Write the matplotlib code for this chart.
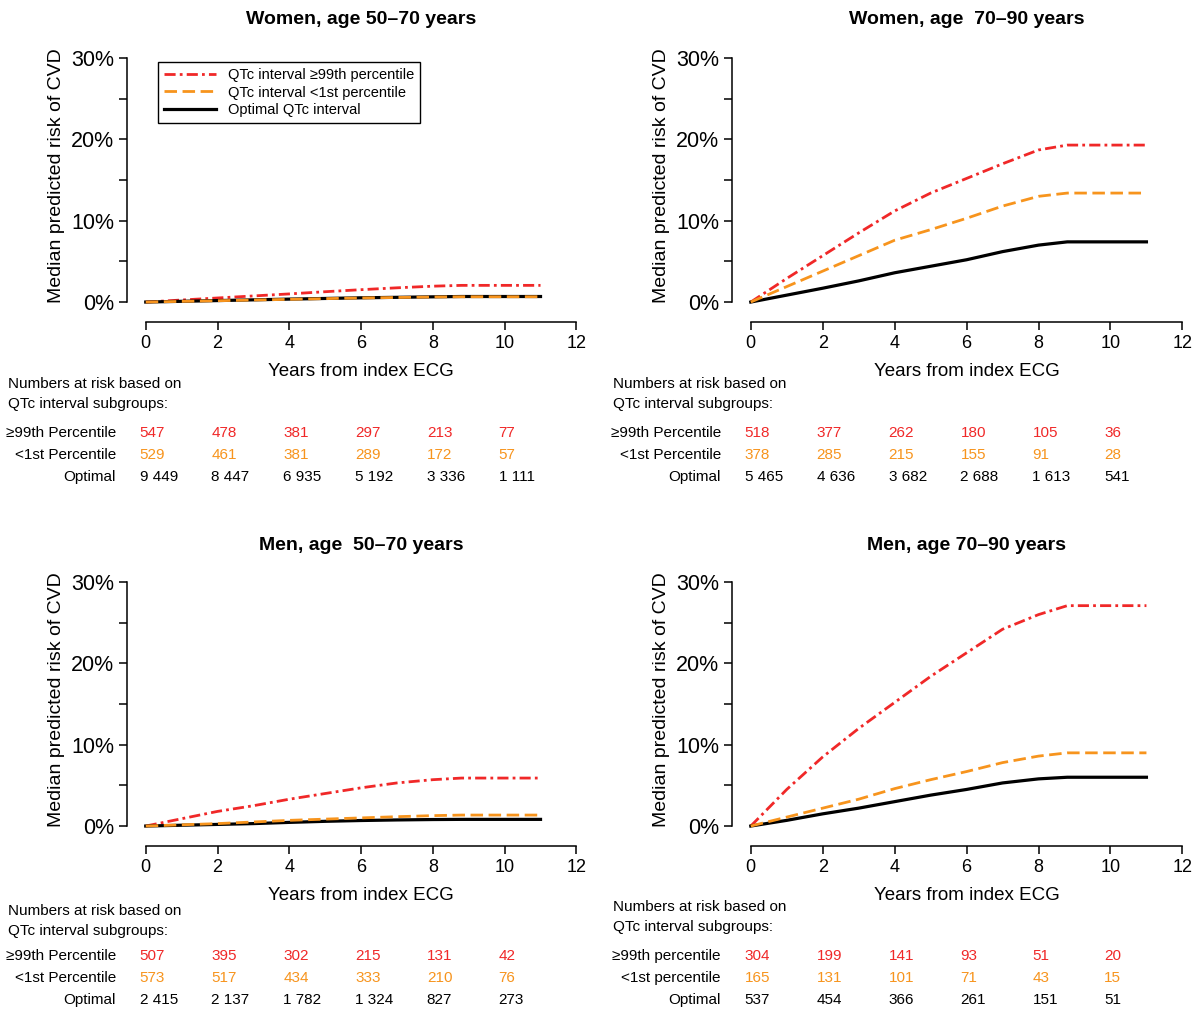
import matplotlib
matplotlib.use("Agg")
import matplotlib.pyplot as plt
from matplotlib.transforms import blended_transform_factory

plt.rcParams['font.family'] = ['Liberation Sans', 'DejaVu Sans']

years = [0, 1, 2, 3, 4, 5, 6, 7, 8, 8.8, 11]

titles = ['Women, age 50\u201370 years', 'Women, age  70\u201390 years',
          'Men, age  50\u201370 years', 'Men, age 70\u201390 years']

# median predicted risk (%) per panel
high_risk = [
    [0, 0.25, 0.5, 0.75, 1.0, 1.27, 1.52, 1.75, 1.95, 2.05, 2.05],
    [0, 2.9, 5.7, 8.5, 11.2, 13.4, 15.2, 17.0, 18.7, 19.3, 19.3],
    [0, 0.9, 1.8, 2.5, 3.3, 4.0, 4.7, 5.3, 5.7, 5.9, 5.9],
    [0, 4.5, 8.5, 12.0, 15.2, 18.4, 21.3, 24.2, 26.0, 27.1, 27.1],
]
low_risk = [
    [0, 0.08, 0.16, 0.25, 0.33, 0.42, 0.5, 0.56, 0.62, 0.65, 0.65],
    [0, 1.9, 3.8, 5.7, 7.6, 8.9, 10.3, 11.8, 13.0, 13.4, 13.4],
    [0, 0.15, 0.3, 0.5, 0.7, 0.85, 1.0, 1.15, 1.28, 1.35, 1.35],
    [0, 1.1, 2.2, 3.3, 4.6, 5.7, 6.7, 7.8, 8.6, 9.0, 9.0],
]
optimal_risk = [
    [0, 0.09, 0.18, 0.27, 0.36, 0.44, 0.52, 0.58, 0.64, 0.68, 0.68],
    [0, 0.85, 1.7, 2.6, 3.6, 4.4, 5.2, 6.2, 7.0, 7.4, 7.4],
    [0, 0.1, 0.2, 0.3, 0.45, 0.58, 0.68, 0.75, 0.8, 0.82, 0.82],
    [0, 0.7, 1.5, 2.2, 3.0, 3.8, 4.5, 5.3, 5.8, 6.0, 6.0],
]

risk_years = [0, 2, 4, 6, 8, 10]
n_high = [
    ['547', '478', '381', '297', '213', '77'],
    ['518', '377', '262', '180', '105', '36'],
    ['507', '395', '302', '215', '131', '42'],
    ['304', '199', '141', '93', '51', '20'],
]
n_low = [
    ['529', '461', '381', '289', '172', '57'],
    ['378', '285', '215', '155', '91', '28'],
    ['573', '517', '434', '333', '210', '76'],
    ['165', '131', '101', '71', '43', '15'],
]
n_opt = [
    ['9 449', '8 447', '6 935', '5 192', '3 336', '1 111'],
    ['5 465', '4 636', '3 682', '2 688', '1 613', '541'],
    ['2 415', '2 137', '1 782', '1 324', '827', '273'],
    ['537', '454', '366', '261', '151', '51'],
]
row_labels = [
    ['\u226599th Percentile', '<1st Percentile', 'Optimal'],
    ['\u226599th Percentile', '<1st Percentile', 'Optimal'],
    ['\u226599th Percentile', '<1st Percentile', 'Optimal'],
    ['\u226599th percentile', '<1st percentile', 'Optimal'],
]

legend_labels = ['QTc interval \u226599th percentile', 'QTc interval <1st percentile',
                 'Optimal QTc interval']

RED = '#f02828'
ORANGE = '#f7941d'
W, H = 1195, 1010

fig = plt.figure(figsize=(W / 100, H / 100), dpi=100)

# axes boxes in pixels: left, top, right, bottom
boxes = [(126, 54, 580, 324), (731, 54, 1186, 324),
         (126, 578, 580, 848), (731, 578, 1186, 848)]
title_y = [20, 20, 546, 546]
# y pixel of rows of the numbers-at-risk table: header1, header2, row1..3
table_y = [(384, 404, 433, 455, 477), (384, 404, 433, 455, 477),
           (911, 931, 956, 978, 1000), (907, 927, 956, 978, 1000)]

for i in range(4):
    l, t, r, b = boxes[i]
    ax = fig.add_axes([l / W, 1 - b / H, (r - l) / W, (b - t) / H])
    ax.plot(years, high_risk[i], color=RED, lw=2.0, ls=(0, (4, 1.5, 1, 1.5)),
            label=legend_labels[0])
    ax.plot(years, optimal_risk[i], color='black', lw=2.3, label=legend_labels[2], zorder=2)
    ax.plot(years, low_risk[i], color=ORANGE, lw=2.0, ls=(0, (4.5, 2)),
            label=legend_labels[1], zorder=3)

    ax.set_xlim(-0.55, 12.1)
    ax.set_ylim(-2.7, 30.5)
    for s in ['top', 'right']:
        ax.spines[s].set_visible(False)
    ax.spines['left'].set_position(('data', -0.53))
    ax.spines['left'].set_bounds(0, 30)
    ax.spines['bottom'].set_position(('data', -2.5))
    ax.spines['bottom'].set_bounds(0, 12)
    ax.spines['left'].set_linewidth(1.1)
    ax.spines['bottom'].set_linewidth(1.1)
    ax.set_xticks(range(0, 13, 2))
    ax.set_yticks([0, 10, 20, 30])
    ax.set_yticklabels(['0%', '10%', '20%', '30%'])
    ax.set_yticks([5, 15, 25], minor=True)
    ax.tick_params(axis='x', labelsize=13, length=6, width=1.1, pad=3)
    ax.tick_params(axis='y', labelsize=15.5, length=6, width=1.1, pad=3)
    ax.tick_params(axis='y', which='minor', length=6, width=1.1)
    ax.set_xlabel('Years from index ECG', fontsize=13.5)
    ax.xaxis.set_label_coords(6, -0.144, transform=blended_transform_factory(ax.transData, ax.transAxes))
    ax.set_ylabel('Median predicted risk of CVD', fontsize=14)
    ax.yaxis.set_label_coords(-0.135, 15.5, transform=blended_transform_factory(ax.transAxes, ax.transData))

    ft = blended_transform_factory(ax.transData, fig.transFigure)
    ax.text(6, 1 - title_y[i] / H, titles[i], transform=ft, ha='center', va='center',
            fontsize=14, fontweight='bold')

    if i == 0:
        leg = ax.legend(handles=[ax.lines[0], ax.lines[2], ax.lines[1]],
                        loc='upper left', bbox_to_anchor=(0.07, 0.97),
                        borderaxespad=0, fontsize=10.5, handlelength=3.6,
                        fancybox=False, framealpha=1, edgecolor='black',
                        labelspacing=0.25, borderpad=0.4)
        leg.get_frame().set_linewidth(1.0)

    # numbers at risk table
    ys = [1 - y / H for y in table_y[i]]
    ax.text(-3.83, ys[0], 'Numbers at risk based on', transform=ft,
            ha='left', va='center', fontsize=11, clip_on=False)
    ax.text(-3.83, ys[1], 'QTc interval subgroups:', transform=ft,
            ha='left', va='center', fontsize=11, clip_on=False)
    colors = [RED, ORANGE, 'black']
    rows = [n_high[i], n_low[i], n_opt[i]]
    for k in range(3):
        ax.text(-0.83, ys[k + 2], row_labels[i][k], transform=ft,
                ha='right', va='center', fontsize=11, clip_on=False)
        for x, val in zip(risk_years, rows[k]):
            ax.text(x - 0.17, ys[k + 2], val, transform=ft, color=colors[k],
                    ha='left', va='center', fontsize=11, clip_on=False)

fig.savefig('out.png', dpi=100)
